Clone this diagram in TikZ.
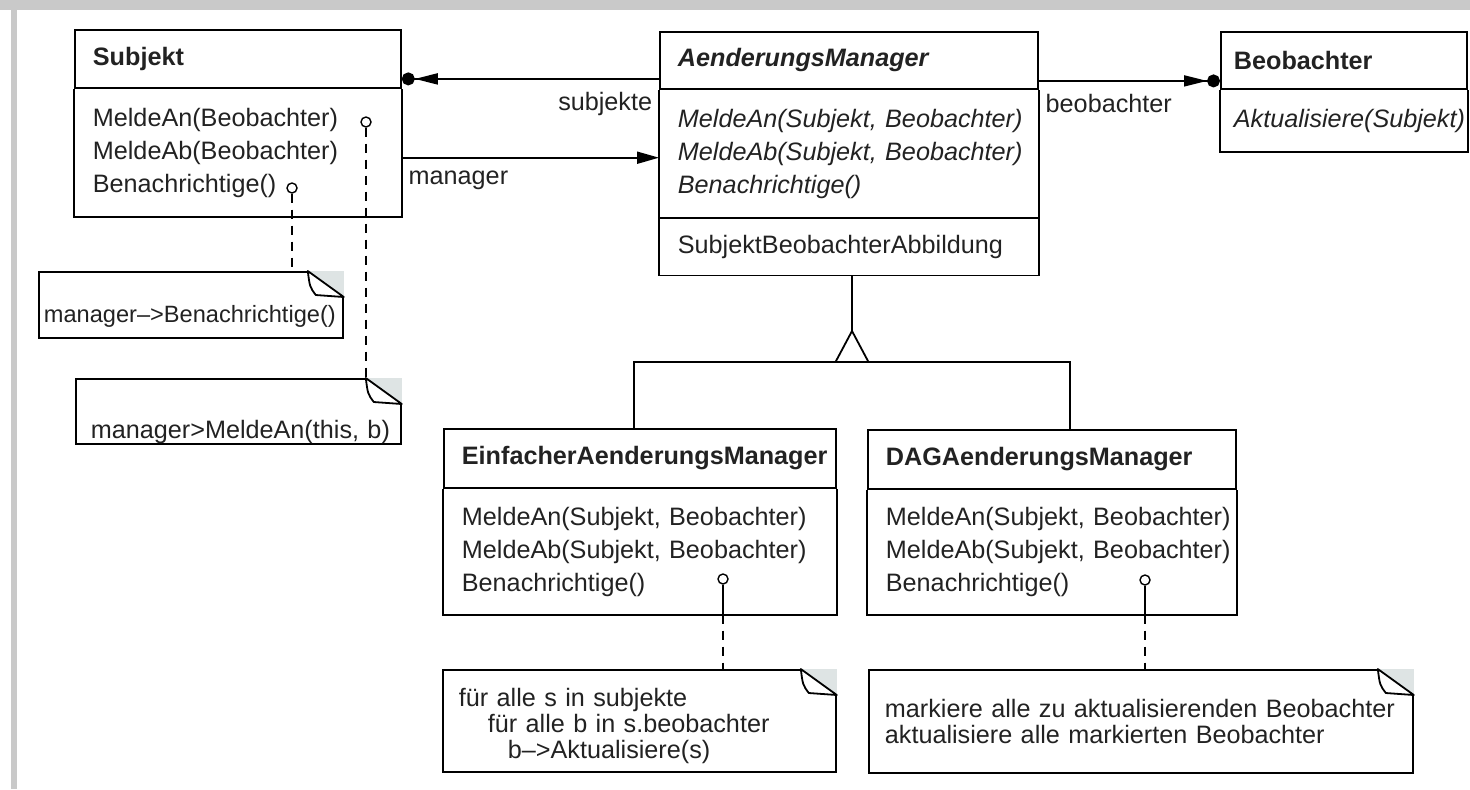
\documentclass[tikz,border=0pt]{standalone}
\usepackage{fontspec}
\setmainfont{Liberation Sans}
\usetikzlibrary{arrows.meta}

\definecolor{framegray}{RGB}{201,201,201}
\definecolor{foldgray}{RGB}{222,228,228}
\definecolor{inkgray}{RGB}{34,34,34}

\newcommand\umlfont{\fontsize{12.6}{16.5}\selectfont}
\newcommand\notefont{\fontsize{12.6}{12.8}\selectfont}

% dog-ear in the top right corner of a note
\newcommand\notefold[1]{%
  \fill[foldgray] ([xshift=-18pt]#1.north east) -- (#1.north east) -- ([yshift=-13pt]#1.north east) -- cycle;
  \draw[fill=white, line join=round] ([xshift=-18pt]#1.north east)
    .. controls ([xshift=-17pt,yshift=-8pt]#1.north east) .. ([xshift=-14pt,yshift=-12pt]#1.north east)
    -- ([yshift=-13pt]#1.north east) -- cycle;
}

% outline of a class below its name compartment
\newcommand\classframe[2]{%
  \draw (#1.south west) -- (#2.south west) -- (#2.south east) -- (#1.south east);
}

\tikzset{
  classhead/.style={draw, anchor=north west, inner sep=0pt, align=left, text=inkgray,
    font=\umlfont\bfseries, execute at begin node={\leftskip=#1}},
  classhead/.default=9pt,
  classbody/.style={anchor=north west, inner sep=0pt, align=left, text=inkgray,
    font=\umlfont, execute at begin node={\leftskip=#1}},
  classbody/.default=9pt,
  ital/.style={font=\umlfont\itshape},
  note/.style={draw, anchor=north west, inner sep=0pt, align=left, text=inkgray,
    font=\notefont, execute at begin node={\leftskip=#1}},
  note/.default=8pt,
  lolli/.style={circle, draw, fill=white, inner sep=0pt, minimum size=5pt, line width=0.7pt},
  notelink/.style={dash pattern=on 4.5pt off 3.5pt},
  role/.style={inner sep=3pt, yshift=-3pt, text=inkgray, font=\umlfont},
  navarrow/.style={-{Triangle[length=11pt,width=6pt]}},
  setarrow/.style={-{Triangle[length=11.5pt,width=5.5pt,sep=0pt]Circle[length=6.5pt]}}
}

\begin{document}
\begin{tikzpicture}[x=0.5pt, y=-0.5pt, line width=0.9pt]
\useasboundingbox (0,0) rectangle (1470,789);
\fill[framegray] (0,0) rectangle (1470,10);
\fill[framegray] (11,10) rectangle (17,789);

% classes
\node[classhead, text width=163pt, minimum height=29pt] (subjh) at (74,29) {Subjekt};
\node[classbody, text width=163pt, minimum height=63pt] (subjops) at (subjh.south west)
  {MeldeAn(Beobachter)\\MeldeAb(Beobachter)\\Benachrichtige()};
\classframe{subjh}{subjops}

\node[classhead, text width=189pt, minimum height=28.5pt, font=\umlfont\bfseries\itshape] (amh) at (659,31) {AenderungsManager};
\node[classbody, ital, text width=189pt, minimum height=63pt] (amops) at (amh.south west)
  {MeldeAn(Subjekt, Beobachter)\\MeldeAb(Subjekt, Beobachter)\\Benachrichtige()};
\node[classbody, text width=189pt, minimum height=28pt] (amattr) at (amops.south west) {SubjektBeobachterAbbildung};
\classframe{amh}{amattr}
\draw (amops.south west) -- (amops.south east);

\node[classhead=6.5pt, text width=123pt, minimum height=28.5pt] (beoh) at (1220,31) {Beobachter};
\node[classbody=6.5pt, ital, text width=123pt, minimum height=30pt] (beoops) at (beoh.south west) {Aktualisiere(Subjekt)};
\classframe{beoh}{beoops}

\node[classhead, text width=196pt, minimum height=29.5pt] (einfh) at (443,428) {EinfacherAenderungsManager};
\node[classbody, text width=196pt, minimum height=62pt] (einfops) at (einfh.south west)
  {MeldeAn(Subjekt, Beobachter)\\MeldeAb(Subjekt, Beobachter)\\Benachrichtige()};
\classframe{einfh}{einfops}

\node[classhead, text width=184pt, minimum height=29.5pt] (dagh) at (867,429) {DAGAenderungsManager};
\node[classbody, text width=184pt, minimum height=61.5pt] (dagops) at (dagh.south west)
  {MeldeAn(Subjekt, Beobachter)\\MeldeAb(Subjekt, Beobachter)\\Benachrichtige()};
\classframe{dagh}{dagops}

% associations
\draw[setarrow] ([yshift=-9.25pt]amh.west) -- ([yshift=-9.25pt]amh.west -| subjh.east)
  node[role, anchor=north east, pos=0] (lsubj) {subjekte};
\draw[navarrow] ([yshift=-2.5pt]subjops.east) -- ([yshift=-2.5pt]subjops.east -| amops.west)
  node[role, anchor=north west, pos=0] (lmgr) {manager};
\draw[setarrow] ([yshift=-10.25pt]amh.east) -- ([yshift=-10.25pt]amh.east -| beoh.west)
  node[role, anchor=north west, pos=0] (lbeo) {beobachter};

% inheritance
\coordinate (gtip) at (852,331);
\coordinate (gleft) at (634,362);
\coordinate (gright) at (1070,362);
\draw (amattr.south -| gtip) -- (gtip);
\draw (einfh.north -| gleft) -- (gleft) -- (gright) -- (dagh.north -| gright);
\draw[fill=white] (gtip) -- ++(-16.5,31) -- ++(33,0) -- cycle;

% notes
\node[note=2.5pt, text width=152pt, minimum height=33pt, text height=19.6pt, font=\fontsize{11.8}{13}\selectfont] (n1) at (38,271) {manager–>Benachrichtige()};
\node[note=7.5pt, text width=162.5pt, minimum height=32.5pt, text height=29.2pt] (n2) at (75,378) {manager>MeldeAn(this, b)};
\node[note, text width=196.5pt, minimum height=51pt, text height=14.2pt] (n3) at (442,669)
  {für alle s in subjekte\\\hspace*{14.5pt}für alle b in s.beobachter\\\hspace*{24.5pt}b–>Aktualisiere(s)};
\node[note, text width=272pt, minimum height=51.5pt] (n4) at (868,669)
  {markiere alle zu aktualisierenden Beobachter\\aktualisiere alle markierten Beobachter};
\notefold{n1}
\notefold{n2}
\notefold{n3}
\notefold{n4}

% note links
\node[lolli] (c1) at (366,122) {};
\node[lolli] (c2) at (292,188) {};
\node[lolli] (c3) at (723,579) {};
\node[lolli] (c4) at (1145,580) {};
\draw[notelink] (c1.south) -- (c1 |- n2.north);
\draw[notelink] (c2.south) -- (c2 |- n1.north);
\draw (c3.south) -- (c3 |- einfops.south);
\draw[notelink] (c3 |- einfops.south) -- (c3 |- n3.north);
\draw (c4.south) -- (c4 |- dagops.south);
\draw[notelink] (c4 |- dagops.south) -- (c4 |- n4.north);
\end{tikzpicture}
\end{document}
